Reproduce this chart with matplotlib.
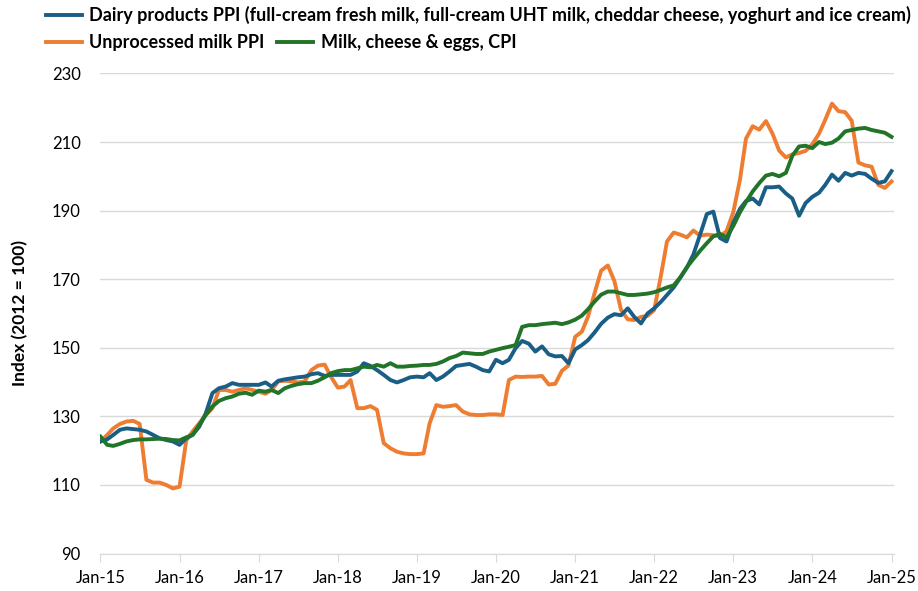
import numpy as np
import pandas as pd
import matplotlib
matplotlib.use("Agg")
import matplotlib.pyplot as plt
import matplotlib.dates as mdates

# monthly index values, Jan-15 .. Jan-25
dairy_ppi = [
    122.7, 123.3, 124.6, 126.1, 126.5, 126.3, 126.1, 125.6, 124.6, 123.6, 123.1, 122.7,
    121.7, 123.6, 124.6, 127.0, 130.9, 136.8, 138.2, 138.7, 139.7, 139.2, 139.2, 139.2,
    139.2, 139.9, 138.7, 140.4, 140.8, 141.1, 141.4, 141.6, 142.3, 142.6, 141.8, 142.1,
    142.1, 142.1, 142.1, 143.1, 145.5, 144.7, 143.5, 142.1, 140.6, 139.9, 140.6, 141.4,
    141.6, 141.4, 142.6, 140.6, 141.6, 143.1, 144.7, 145.0, 145.3, 144.5, 143.5, 143.1,
    146.5, 145.5, 146.5, 149.9, 152.0, 151.2, 148.9, 150.4, 148.1, 147.5, 147.6, 145.5,
    149.5, 150.8, 152.2, 154.5, 157.0, 158.8, 159.8, 159.5, 161.5, 159.0, 157.1, 160.0,
    161.5, 163.4, 165.4, 167.6, 170.4, 173.4, 177.2, 183.0, 189.0, 189.7, 182.0, 181.0,
    186.5, 190.5, 192.8, 193.5, 191.8, 196.8, 196.8, 197.0, 195.0, 193.5, 188.5, 192.2,
    194.0, 195.2, 197.5, 200.5, 198.7, 201.0, 200.2, 201.0, 200.7, 199.3, 198.1, 198.5,
    201.5,
]
milk_ppi = [
    122.7, 124.6, 126.5, 127.8, 128.5, 128.7, 127.8, 111.5, 110.7, 110.7, 110.0, 109.0,
    109.5, 123.0, 125.6, 128.0, 130.4, 132.4, 137.7, 137.7, 137.2, 137.7, 138.2, 137.7,
    137.2, 136.6, 137.7, 140.2, 140.4, 140.2, 139.9, 140.2, 143.5, 144.8, 145.1, 141.5,
    138.4, 138.7, 140.6, 132.4, 132.4, 133.0, 131.9, 122.2, 120.7, 119.7, 119.2, 119.0,
    119.0, 119.2, 128.0, 133.3, 132.8, 133.0, 133.3, 131.4, 130.6, 130.4, 130.4, 130.6,
    130.6, 130.4, 140.6, 141.6, 141.5, 141.6, 141.6, 141.8, 139.3, 139.5, 143.3, 144.8,
    153.2, 154.7, 159.0, 166.0, 172.5, 174.0, 169.5, 161.0, 158.3, 158.1, 159.0, 159.3,
    161.0, 171.0, 181.0, 183.6, 183.0, 182.2, 184.2, 182.7, 183.0, 182.8, 182.5, 184.0,
    189.5, 199.0, 211.0, 214.6, 213.6, 216.1, 212.5, 207.5, 205.5, 206.4, 206.8, 207.4,
    209.3, 212.4, 216.5, 221.2, 219.0, 218.7, 216.2, 204.0, 203.2, 202.8, 197.5, 196.6,
    198.5,
]
cpi = [
    124.1, 121.7, 121.4, 122.0, 122.7, 123.1, 123.3, 123.3, 123.4, 123.5, 123.4, 123.1,
    123.0, 123.9, 124.6, 127.5, 130.4, 132.9, 134.5, 135.3, 135.8, 136.6, 136.9, 136.3,
    137.5, 137.2, 137.7, 136.8, 138.2, 138.9, 139.4, 139.7, 139.7, 140.4, 141.4, 142.6,
    143.2, 143.5, 143.5, 144.0, 144.5, 144.3, 145.0, 144.5, 145.5, 144.5, 144.5, 144.7,
    144.8, 145.0, 145.0, 145.3, 146.0, 147.0, 147.6, 148.6, 148.4, 148.2, 148.2, 148.9,
    149.4, 149.9, 150.3, 150.8, 156.1, 156.6, 156.6, 156.9, 157.1, 157.3, 156.9, 157.4,
    158.2, 159.4, 161.2, 163.5, 165.5, 166.4, 166.4, 165.9, 165.4, 165.4, 165.6, 165.8,
    166.2, 166.9, 167.6, 168.2, 170.5, 173.5, 175.9, 178.3, 180.5, 182.5, 183.2, 182.2,
    185.5, 189.5, 192.5, 195.6, 198.0, 200.2, 200.7, 200.0, 201.0, 206.0, 208.7, 208.9,
    208.2, 210.0, 209.4, 209.8, 211.0, 213.1, 213.5, 213.9, 214.1, 213.5, 213.1, 212.7,
    211.5,
]

labels = ["Dairy products PPI (full-cream fresh milk, full-cream UHT milk, cheddar cheese, yoghurt and ice cream)",
          "Unprocessed milk PPI", "Milk, cheese & eggs, CPI"]
colors = ["#1a5e86", "#ee7d31", "#217428"]

dates = pd.date_range("2015-01-01", periods=len(dairy_ppi), freq="MS")

plt.rcParams["font.family"] = ["Lato", "DejaVu Sans"]

fig = plt.figure(figsize=(9.18, 5.91), dpi=100)
ax = fig.add_axes([0.109, 0.0633, 0.865, 0.8125])

l1, = ax.plot(dates, dairy_ppi, color=colors[0], lw=2.8, solid_joinstyle="round", zorder=3)
l2, = ax.plot(dates, milk_ppi, color=colors[1], lw=2.8, solid_joinstyle="round", zorder=2)
l3, = ax.plot(dates, cpi, color=colors[2], lw=2.8, solid_joinstyle="round", zorder=4)

ax.set_ylim(90, 230)
ax.set_yticks(np.arange(90, 231, 20))
ax.set_xlim(dates[0] - pd.Timedelta(days=2), dates[-1] + pd.Timedelta(days=12))
ax.xaxis.set_major_locator(mdates.YearLocator())
ax.xaxis.set_major_formatter(mdates.DateFormatter("%b-%y"))

ax.grid(axis="y", color="#d9d9d9", lw=1)
ax.set_axisbelow(True)
for s in ["top", "right", "left"]:
    ax.spines[s].set_visible(False)
ax.spines["bottom"].set_color("#d9d9d9")
ax.tick_params(axis="x", colors="#d9d9d9", length=6, labelcolor="black", labelsize=12, pad=6)
ax.tick_params(axis="y", length=0, labelsize=12, pad=14)
ax.set_ylabel("Index (2012 = 100)", fontsize=12.5, fontweight="bold", labelpad=17)

leg_font = {"weight": "bold", "size": 13}
leg1 = fig.legend([l1], [labels[0]], loc="upper left", bbox_to_anchor=(0.05, 0.99),
                  frameon=False, borderpad=0, borderaxespad=0, handlelength=2.0,
                  handletextpad=0.4, prop=leg_font)
leg2 = fig.legend([l2, l3], labels[1:], loc="upper left", bbox_to_anchor=(0.05, 0.942),
                  ncol=2, frameon=False, borderpad=0, borderaxespad=0, handlelength=2.0,
                  handletextpad=0.4, columnspacing=0.7, prop=leg_font)

fig.savefig("out.png", dpi=100)
